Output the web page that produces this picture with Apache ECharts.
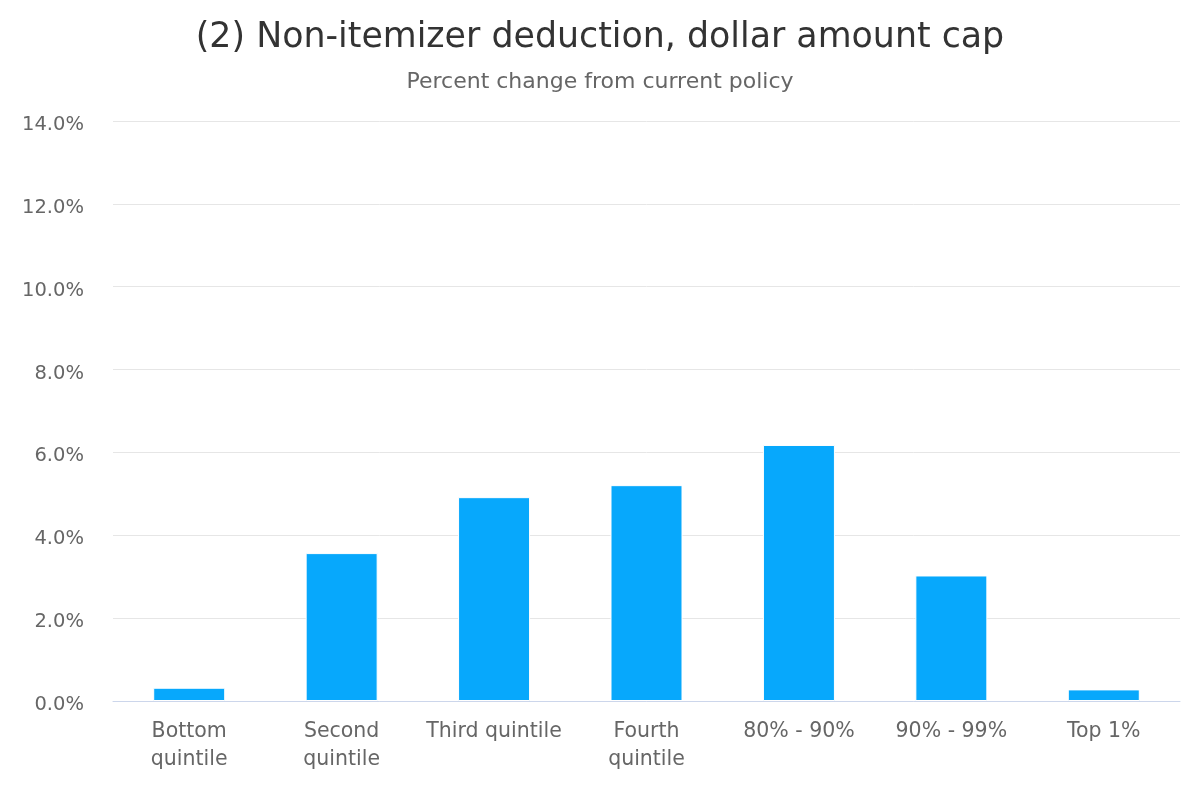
<!DOCTYPE html>
<html>
<head>
<meta charset="utf-8">
<script src="https://cdn.jsdelivr.net/npm/echarts@6/dist/echarts.min.js"></script>
<style>html,body{margin:0;padding:0;background:#fff}#c{width:1200px;height:800px}</style>
</head>
<body>
<div id="c"></div>
<script>
const categories = ["Bottom quintile", "Second quintile", "Third quintile", "Fourth quintile", "80% - 90%", "90% - 99%", "Top 1%"];
const values = [0.32, 3.57, 4.92, 5.21, 6.18, 3.03, 0.28];
const titleText = "(2) Non-itemizer deduction, dollar amount cap";
const subtitleText = "Percent change from current policy";

const chart = echarts.init(document.getElementById('c'));
chart.setOption({
  animation: false,
  title: {
    text: titleText,
    subtext: subtitleText,
    left: 'center',
    top: 15,
    itemGap: 16,
    textStyle: { fontFamily: 'DejaVu Sans', fontSize: 34.8, fontWeight: 'normal', color: '#333333' },
    subtextStyle: { fontFamily: 'DejaVu Sans', fontSize: 22, color: '#666666' }
  },
  grid: { left: 113, right: 20, top: 121, bottom: 99 },
  xAxis: {
    type: 'category',
    data: categories,
    axisLine: { lineStyle: { color: '#ccd6eb', width: 1 } },
    axisTick: { show: false },
    axisLabel: {
      fontFamily: 'DejaVu Sans', fontSize: 20.5, color: '#666666', margin: 17,
      lineHeight: 28, interval: 0,
      formatter: name => name.length > 14 ? name.replace(' ', '\n') : name
    }
  },
  yAxis: {
    type: 'value',
    min: 0, max: 14, interval: 2,
    axisLine: { show: false },
    axisTick: { show: false },
    splitLine: { lineStyle: { color: '#e6e6e6', width: 1 } },
    axisLabel: {
      margin: 29,
      formatter: v => '{a|' + v.toFixed(1) + '%}',
      rich: {
        a: { fontFamily: 'DejaVu Sans', fontSize: 19.5, color: '#666666', padding: [8, 0, 0, 0] }
      }
    }
  },
  series: [{
    type: 'bar',
    data: values,
    barWidth: 72,
    itemStyle: { color: '#07a8fc', borderColor: '#ffffff', borderWidth: 1 }
  }]
});
</script>
</body>
</html>
